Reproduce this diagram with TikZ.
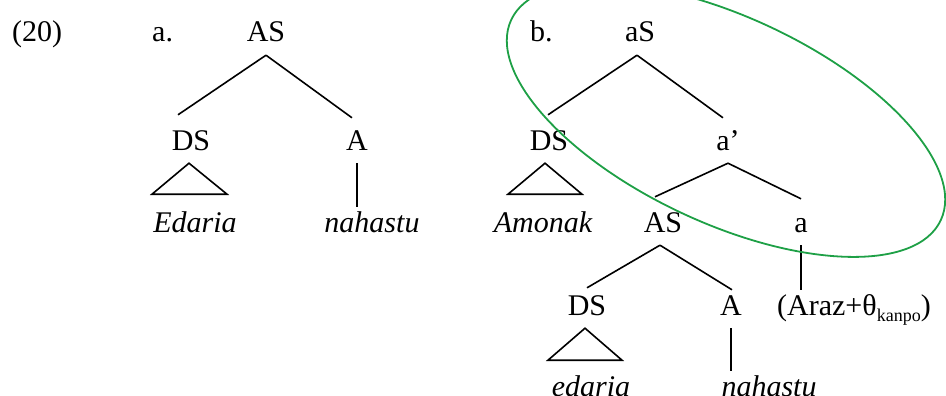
\documentclass[tikz,border=0pt]{standalone}
\usepackage{fontspec}
\setmainfont{Liberation Serif}
\definecolor{ringgreen}{RGB}{30,160,70}
\newcommand{\treesize}{\fontsize{30}{32}\selectfont}
\newcommand{\subsize}{\fontsize{18}{18}\selectfont}
\tikzset{
  cat/.style={inner sep=0pt, font=\treesize, text height=35pt, text depth=13pt},
  word/.style={inner sep=0pt, font=\treesize\itshape, text height=25pt, text depth=13pt},
  tag/.style={inner sep=0pt, font=\treesize, anchor=base west},
  branch/.style={line width=1.6pt},
  ring/.style={ringgreen, line width=1.8pt}
}

\begin{document}
\begin{tikzpicture}[x=1pt,y=-1pt]
\useasboundingbox (0,0) rectangle (946,396);

%%%%%%%%%%%%%%%%%%Example Number and Labels%%%%%%%%%%%%%%%
\node[tag] (num) at (12,42) {(20)};
\node[tag] (la) at (152,42) {a.};
\node[tag] (lb) at (530,42) {b.};

%%%%%%%%%%%%%%%%%%Tree a%%%%%%%%%%%%%%%%%%
\node[cat,anchor=base] (ASa) at (266,42) {AS};
\node[cat,anchor=base] (DSa) at (191,150) {DS};
\node[cat,anchor=base] (Aa) at (357,150) {A};
\node[word,anchor=base] (Ed) at (195,232) {Edaria};
\node[word,anchor=base] (nahA) at (372,232) {nahastu};

\draw[branch] (ASa.south) -- ([xshift=-13pt]DSa.north);
\draw[branch] (ASa.south) -- ([xshift=-5pt,yshift=-3pt]Aa.north);
\draw[branch] ([xshift=-2pt]DSa.south) -- ++(-37,31) -- ++(75,0) -- cycle;
\draw[branch] (Aa.south) -- (Aa.south |- nahA.north);

%%%%%%%%%%%%%%%%%%Tree b%%%%%%%%%%%%%%%%%%
\node[cat,anchor=base] (aS) at (640,42) {aS};
\node[cat,anchor=base] (DSb) at (549,150) {DS};
\node[cat,anchor=base] (abar) at (728,150) {a’};
\node[word,anchor=base] (Am) at (543,232) {Amonak};
\node[cat,anchor=base] (ASb) at (663,232) {AS};
\node[cat,anchor=base] (ab) at (801,232) {a};
\node[cat,anchor=base] (DSc) at (587,315) {DS};
\node[cat,anchor=base] (Ac) at (731,315) {A};
\node[word,font=\treesize,anchor=base west] (arz) at (777,315)
  {(Araz+θ\raisebox{-6pt}{\subsize kanpo})};
\node[word,anchor=base] (ed) at (591,396) {edaria};
\node[word,anchor=base] (nahB) at (769,396) {nahastu};

\draw[branch] ([xshift=-3pt]aS.south) -- ([xshift=-1pt]DSb.north);
\draw[branch] ([xshift=-3pt]aS.south) -- ([xshift=-5pt,yshift=-3pt]abar.north);
\draw[branch] ([xshift=-4pt]DSb.south) -- ++(-37,31) -- ++(74,0) -- cycle;
\draw[branch] (abar.south) -- ([xshift=-8pt]ASb.north);
\draw[branch] (abar.south) -- ([yshift=-2pt]ab.north);
\draw[branch] (ab.south) -- (ab.south |- arz.north);
\draw[branch] ([xshift=-3pt]ASb.south) -- ([yshift=-8pt]DSc.north);
\draw[branch] ([xshift=-3pt]ASb.south) -- ([xshift=1pt,yshift=-10pt]Ac.north);
\draw[branch] ([xshift=-2pt]DSc.south) -- ++(-37,32) -- ++(74,0) -- cycle;
\draw[branch] (Ac.south) -- (Ac.south |- nahB.north);

%%%%%%%%%%%%%%%%%%Green Ring round the Projection%%%%%%%%%%%%%%%
\draw[ring, rotate around={-25:(726,120)}] (726,120) ellipse [x radius=237, y radius=103];

\end{tikzpicture}
\end{document}
